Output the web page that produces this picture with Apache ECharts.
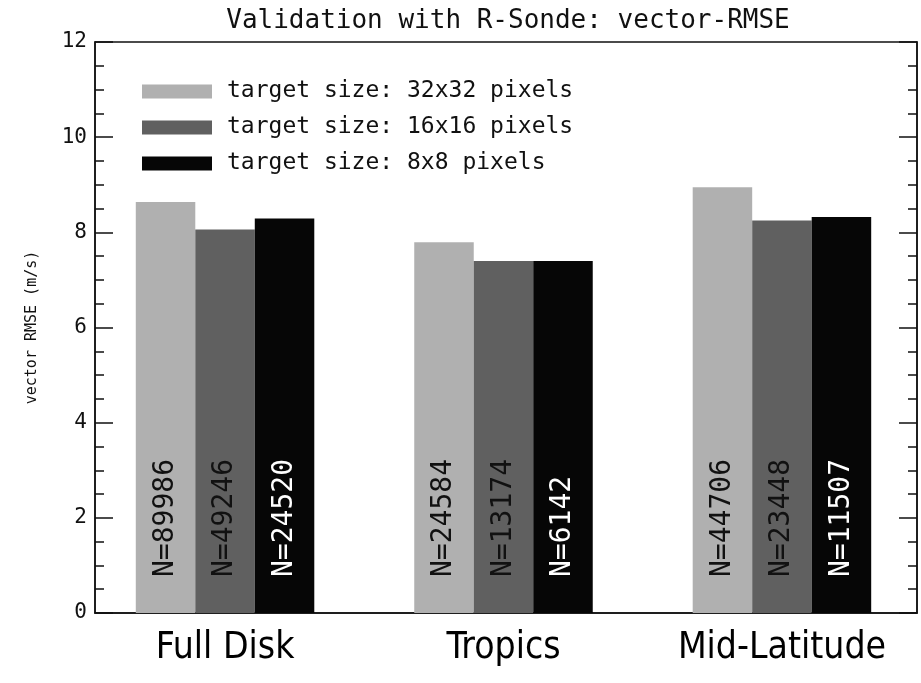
<!DOCTYPE html>
<html>
<head>
<meta charset="utf-8">
<script src="https://cdn.jsdelivr.net/npm/echarts@6/dist/echarts.min.js"></script>
<style>html,body{margin:0;padding:0;background:#fff}#c{width:921px;height:683px}</style>
</head>
<body>
<div id="c"></div>
<script>
const categories = ['Full Disk', 'Tropics', 'Mid-Latitude'];
const seriesNames = ['target size: 32x32 pixels', 'target size: 16x16 pixels', 'target size: 8x8 pixels'];
const rmse32 = [8.64, 7.79, 8.95];
const rmse16 = [8.06, 7.40, 8.25];
const rmse8 = [8.29, 7.40, 8.32];
const count32 = [89986, 24584, 44706];
const count16 = [49246, 13174, 23448];
const count8 = [24520, 6142, 11507];
const yTickLabels = [0, 2, 4, 6, 8, 10, 12];

const colors = ['#b0b0b0', '#606060', '#060606'];
const labelColors = ['#111', '#111', '#fff'];
const HF = 'DejaVu Sans Mono';

const gridLeft = 95, gridRight = 4, W = 921;
const xMin = 0.533, xMax = 3.485;
const barW = 59.5;
const pxPerUnit = (W - gridLeft - gridRight) / (xMax - xMin);
const off = barW / pxPerUnit;
const groupPos = categories.map((c, i) => i + 1);
const tickPos = [];
groupPos.forEach(g => { tickPos.push(g - off, g, g + off); });

const values = [rmse32, rmse16, rmse8];
const counts = [count32, count16, count8];

const series = seriesNames.map((name, s) => ({
  name: name,
  type: 'bar',
  barWidth: barW,
  barGap: '0%',
  itemStyle: { color: colors[s] },
  data: groupPos.map((g, i) => [g, values[s][i]]),
  label: {
    show: true,
    position: 'insideBottom',
    distance: 36,
    rotate: 90,
    align: 'left',
    verticalAlign: 'middle',
    fontFamily: HF,
    fontSize: 28,
    color: labelColors[s],
    formatter: p => 'N=' + counts[s][p.dataIndex]
  }
}));

const yAxisBase = {
  type: 'value', min: 0, max: 12, interval: 2,
  axisLine: { show: true, lineStyle: { color: '#111', width: 1.5 } },
  axisTick: { show: true, inside: true, length: 18, lineStyle: { color: '#111', width: 1.5 } },
  minorTick: { show: true, splitNumber: 4, length: 9, lineStyle: { color: '#111', width: 1.5 } },
  splitLine: { show: false }
};

const chart = echarts.init(document.getElementById('c'), null, { renderer: 'canvas' });
chart.setOption({
  animation: false,
  backgroundColor: '#fff',
  title: {
    text: 'Validation with R-Sonde: vector-RMSE',
    left: 503, textAlign: 'center', top: 3,
    textStyle: { fontFamily: HF, fontSize: 26, fontWeight: 'normal', color: '#111' }
  },
  legend: {
    orient: 'vertical', left: 137, top: 75,
    itemWidth: 70, itemHeight: 14, itemGap: 13,
    icon: 'rect',
    selectedMode: false,
    data: seriesNames,
    textStyle: { fontFamily: HF, fontSize: 23, color: '#111', padding: [0, 0, 0, 10] }
  },
  grid: { left: gridLeft, right: gridRight, top: 42, bottom: 70, show: true, borderColor: '#111', borderWidth: 1.5 },
  xAxis: {
    type: 'value', min: xMin, max: xMax,
    axisLine: { show: true, onZero: false, lineStyle: { color: '#111', width: 1.5 } },
    axisTick: { show: true, inside: true, length: 12, customValues: tickPos, lineStyle: { color: '#111', width: 1 } },
    axisLabel: {
      customValues: groupPos,
      formatter: v => categories[Math.round(v) - 1],
      fontFamily: "'DejaVu Sans Condensed', 'DejaVu Sans'", fontSize: 37, color: '#000', margin: 17
    },
    splitLine: { show: false }
  },
  yAxis: [
    Object.assign({}, yAxisBase, {
      position: 'left',
      name: 'vector RMSE (m/s)', nameLocation: 'middle', nameGap: 55, nameRotate: 90,
      nameTextStyle: { fontFamily: HF, fontSize: 15, color: '#111' },
      axisLabel: { show: true, margin: 8, fontFamily: HF, fontSize: 21, color: '#111',
        formatter: v => yTickLabels.indexOf(v) >= 0 ? String(v) : '' }
    }),
    Object.assign({}, yAxisBase, { position: 'right', axisLabel: { show: false } })
  ],
  series: series
});
</script>
</body>
</html>
